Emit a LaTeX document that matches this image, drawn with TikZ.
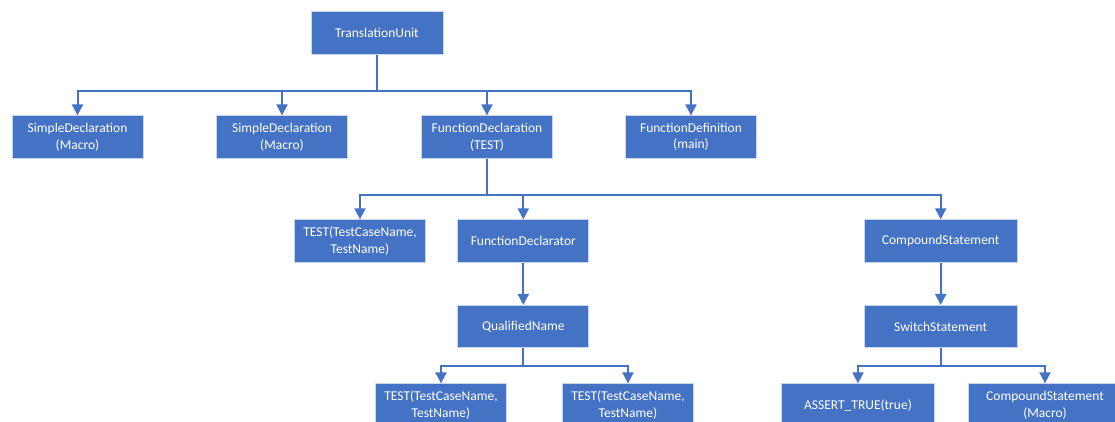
\documentclass[tikz,border=0pt]{standalone}
\usepackage{fontspec}
\setmainfont{Carlito}
\usetikzlibrary{arrows.meta}
\definecolor{boxblue}{HTML}{4472C4}
\begin{document}
\begin{tikzpicture}[x=1pt,y=-1pt,
  box/.style={draw=white!70!boxblue, line width=0.8pt, fill=boxblue, text=white,
    minimum width=131pt, minimum height=42.5pt, inner sep=0pt, align=center,
    font=\fontsize{13.5}{16.5}\selectfont},
  wide/.style={minimum width=153pt},
  link/.style={draw=boxblue, line width=2pt, -{Triangle[length=11pt,width=11pt]}}
]
% page frame
\useasboundingbox (0,0) rectangle (1115,421);
\fill[white] (0,0) rectangle (1115,421);
\clip (0,0) rectangle (1115,421);

% syntax tree nodes
\node[box, minimum width=132pt] (tu) at (377,33) {TranslationUnit};
\node[box] (sd1) at (77.5,137) {SimpleDeclaration\\(Macro)};
\node[box] (sd2) at (282,137) {SimpleDeclaration\\(Macro)};
\node[box] (fdecl) at (487,137) {FunctionDeclaration\\(TEST)};
\node[box] (fdef) at (691,137) {FunctionDefinition\\(main)};
\node[box] (test) at (360,241) {TEST(TestCaseName,\\TestName)};
\node[box] (fdtor) at (523.3,241) {FunctionDeclarator};
\node[box, wide] (cs) at (940.7,241) {CompoundStatement};
\node[box] (qn) at (523.3,326.6) {QualifiedName};
\node[box, wide] (ss) at (940.7,326.6) {SwitchStatement};
\node[box] (t1) at (441,405) {TEST(TestCaseName,\\TestName)};
\node[box] (t2) at (628,405) {TEST(TestCaseName,\\TestName)};
\node[box, wide] (at) at (858,405) {ASSERT\_TRUE(true)};
\node[box, wide] (csm) at (1045,405) {CompoundStatement\\(Macro)};

% branching points
\coordinate (b1) at (377,90.5);
\coordinate (b2) at (487,194.5);
\coordinate (b3) at (523.3,365.7);
\coordinate (b4) at (940.7,365.7);

% connectors
\draw[link] (tu.south) -- (b1) -| (sd1.north);
\draw[link] (tu.south) -- (b1) -| (sd2.north);
\draw[link] (tu.south) -- (b1) -| (fdecl.north);
\draw[link] (tu.south) -- (b1) -| (fdef.north);

\draw[link] (fdecl.south) -- (b2) -| (test.north);
\draw[link] (fdecl.south) -- (b2) -| (fdtor.north);
\draw[link] (fdecl.south) -- (b2) -| (cs.north);

\draw[link] (fdtor.south) -- (qn.north);
\draw[link] (cs.south) -- (ss.north);

\draw[link] (qn.south) -- (b3) -| (t1.north);
\draw[link] (qn.south) -- (b3) -| (t2.north);

\draw[link] (ss.south) -- (b4) -| (at.north);
\draw[link] (ss.south) -- (b4) -| (csm.north);
\end{tikzpicture}
\end{document}
